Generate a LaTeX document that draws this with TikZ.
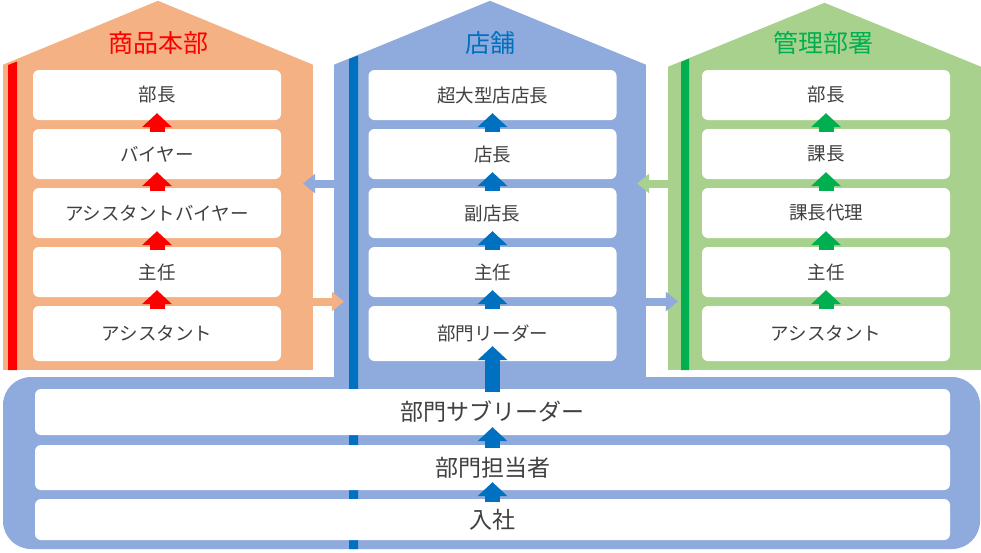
\documentclass[tikz,border=0pt]{standalone}
\usepackage{fontspec}
\usepackage{xcolor}
\usepackage{tikz}
\usetikzlibrary{arrows.meta,calc,positioning}
\newfontfamily\jpfont{Noto Sans CJK JP}
\definecolor{honbuorange}{RGB}{244,177,131}
\definecolor{tenpoblue}{RGB}{143,170,220}
\definecolor{kanrigreen}{RGB}{169,209,142}
\definecolor{barred}{RGB}{255,0,0}
\definecolor{barblue}{RGB}{0,112,192}
\definecolor{bargreen}{RGB}{0,176,80}
\definecolor{labelgray}{RGB}{64,64,64}

\tikzset{
  housebody/.style={fill=#1, inner sep=0pt},
  rankbox/.style={fill=white, rounded corners=6pt, minimum width=248pt,
    minimum height=50pt, inner sep=0pt, text=labelgray,
    font=\jpfont\fontsize{18.5}{20}\selectfont},
  baserank/.style={rankbox, minimum width=915pt,
    font=\jpfont\fontsize{23}{25}\selectfont},
  housetitle/.style={text=#1, inner sep=0pt,
    font=\jpfont\fontsize{25}{27}\selectfont},
  uparrow/.style={draw=#1, line width=15pt,
    -{Triangle[width=30pt,length=14pt,line width=0pt]}},
  sidearrow/.style={draw=#1, line width=8pt,
    -{Triangle[width=20pt,length=12pt,line width=0pt]}},
}

\begin{document}
\begin{tikzpicture}[x=1pt,y=-1pt]
  \useasboundingbox (0,0) rectangle (981,552);

  % house bodies and base
  \node[housebody=honbuorange, minimum width=310pt, minimum height=305pt] (honbu) at (158,217.5) {};
  \node[housebody=kanrigreen, minimum width=313pt, minimum height=303pt] (kanri) at (824.5,218.5) {};
  \node[housebody=tenpoblue, minimum width=977pt, minimum height=172pt, rounded corners=28pt] (base) at (491.5,463) {};
  \node[housebody=tenpoblue, minimum width=312pt, minimum height=327pt] (tenpo) at (490,228.5) {};

  % roofs
  \fill[honbuorange] (honbu.north west) -- ([yshift=64pt]honbu.north) -- (honbu.north east) -- cycle;
  \fill[tenpoblue] (tenpo.north west) -- ([yshift=64pt]tenpo.north) -- (tenpo.north east) -- cycle;
  \fill[kanrigreen] (kanri.north west) -- ([yshift=64pt]kanri.north) -- (kanri.north east) -- cycle;

  % side bars
  \fill[barred] (8,65) -- (17,61.5) -- (17,370) -- (8,370) -- cycle;
  \fill[barblue] (349,59) -- (358,55.5) -- (358,549) -- (349,549) -- cycle;
  \fill[bargreen] (681,62) -- (689,58.5) -- (689,370) -- (681,370) -- cycle;

  % titles
  \node[housetitle=barred] (honbu-title) at (158,43) {商品本部};
  \node[housetitle=barblue] (tenpo-title) at (490,43) {店舗};
  \node[housetitle=bargreen] (kanri-title) at (823,43) {管理部署};

  % 商品本部
  \node[rankbox] (h1) at (157,95) {部長};
  \node[rankbox] (h2) at (157,154) {バイヤー};
  \node[rankbox] (h3) at (157,213) {アシスタントバイヤー};
  \node[rankbox] (h4) at (157,272) {主任};
  \node[rankbox, minimum height=55pt] (h5) at (157,333.5) {アシスタント};

  % 店舗
  \node[rankbox] (t1) at (492.5,95) {超大型店店長};
  \node[rankbox] (t2) at (492.5,154) {店長};
  \node[rankbox] (t3) at (492.5,213) {副店長};
  \node[rankbox] (t4) at (492.5,272) {主任};
  \node[rankbox, minimum height=55pt] (t5) at (492.5,333.5) {部門リーダー};

  % 管理部署
  \node[rankbox] (k1) at (826,95) {部長};
  \node[rankbox] (k2) at (826,154) {課長};
  \node[rankbox] (k3) at (826,213) {課長代理};
  \node[rankbox] (k4) at (826,272) {主任};
  \node[rankbox, minimum height=55pt] (k5) at (826,333.5) {アシスタント};

  % base ranks
  \node[baserank, minimum height=46pt] (b1) at (492.5,412) {部門サブリーダー};
  \node[baserank, minimum height=45pt] (b2) at (492.5,467.5) {部門担当者};
  \node[baserank, minimum height=41pt] (b3) at (492.5,519.5) {入社};

  % promotions
  \draw[uparrow=barred] ([yshift=-3pt]h2.north) -- ([yshift=7pt]h1.south);
  \draw[uparrow=barred] ([yshift=-3pt]h3.north) -- ([yshift=7pt]h2.south);
  \draw[uparrow=barred] ([yshift=-3pt]h4.north) -- ([yshift=7pt]h3.south);
  \draw[uparrow=barred] ([yshift=-3pt]h5.north) -- ([yshift=7pt]h4.south);

  \draw[uparrow=barblue] ([yshift=-3pt]t2.north) -- ([yshift=7pt]t1.south);
  \draw[uparrow=barblue] ([yshift=-3pt]t3.north) -- ([yshift=7pt]t2.south);
  \draw[uparrow=barblue] ([yshift=-3pt]t4.north) -- ([yshift=7pt]t3.south);
  \draw[uparrow=barblue] ([yshift=-3pt]t5.north) -- ([yshift=7pt]t4.south);

  \draw[uparrow=bargreen] ([yshift=-3pt]k2.north) -- ([yshift=7pt]k1.south);
  \draw[uparrow=bargreen] ([yshift=-3pt]k3.north) -- ([yshift=7pt]k2.south);
  \draw[uparrow=bargreen] ([yshift=-3pt]k4.north) -- ([yshift=7pt]k3.south);
  \draw[uparrow=bargreen] ([yshift=-3pt]k5.north) -- ([yshift=7pt]k4.south);

  \draw[uparrow=barblue] ([yshift=-3pt]b3.north) -- ([yshift=8pt]b2.south);
  \draw[uparrow=barblue] ([yshift=-3pt]b2.north) -- ([yshift=8pt]b1.south);
  \draw[uparrow=barblue] ([yshift=-3pt]b1.north) -- ([yshift=15pt]t5.south);

  % transfers between houses
  \coordinate (g23) at ($(t2.south)!.5!(t3.north)$);
  \coordinate (g45) at ($(t4.south)!.5!(t5.north)$);
  \draw[sidearrow=tenpoblue] (tenpo.west |- g23) -- ($(honbu.east |- g23)+(-10pt,0)$);
  \draw[sidearrow=honbuorange] (honbu.east |- g45) -- ($(tenpo.west |- g45)+(10pt,0)$);
  \draw[sidearrow=kanrigreen] (kanri.west |- g23) -- ($(tenpo.east |- g23)+(-9pt,0)$);
  \draw[sidearrow=tenpoblue] (tenpo.east |- g45) -- ($(kanri.west |- g45)+(10pt,0)$);
\end{tikzpicture}
\end{document}
